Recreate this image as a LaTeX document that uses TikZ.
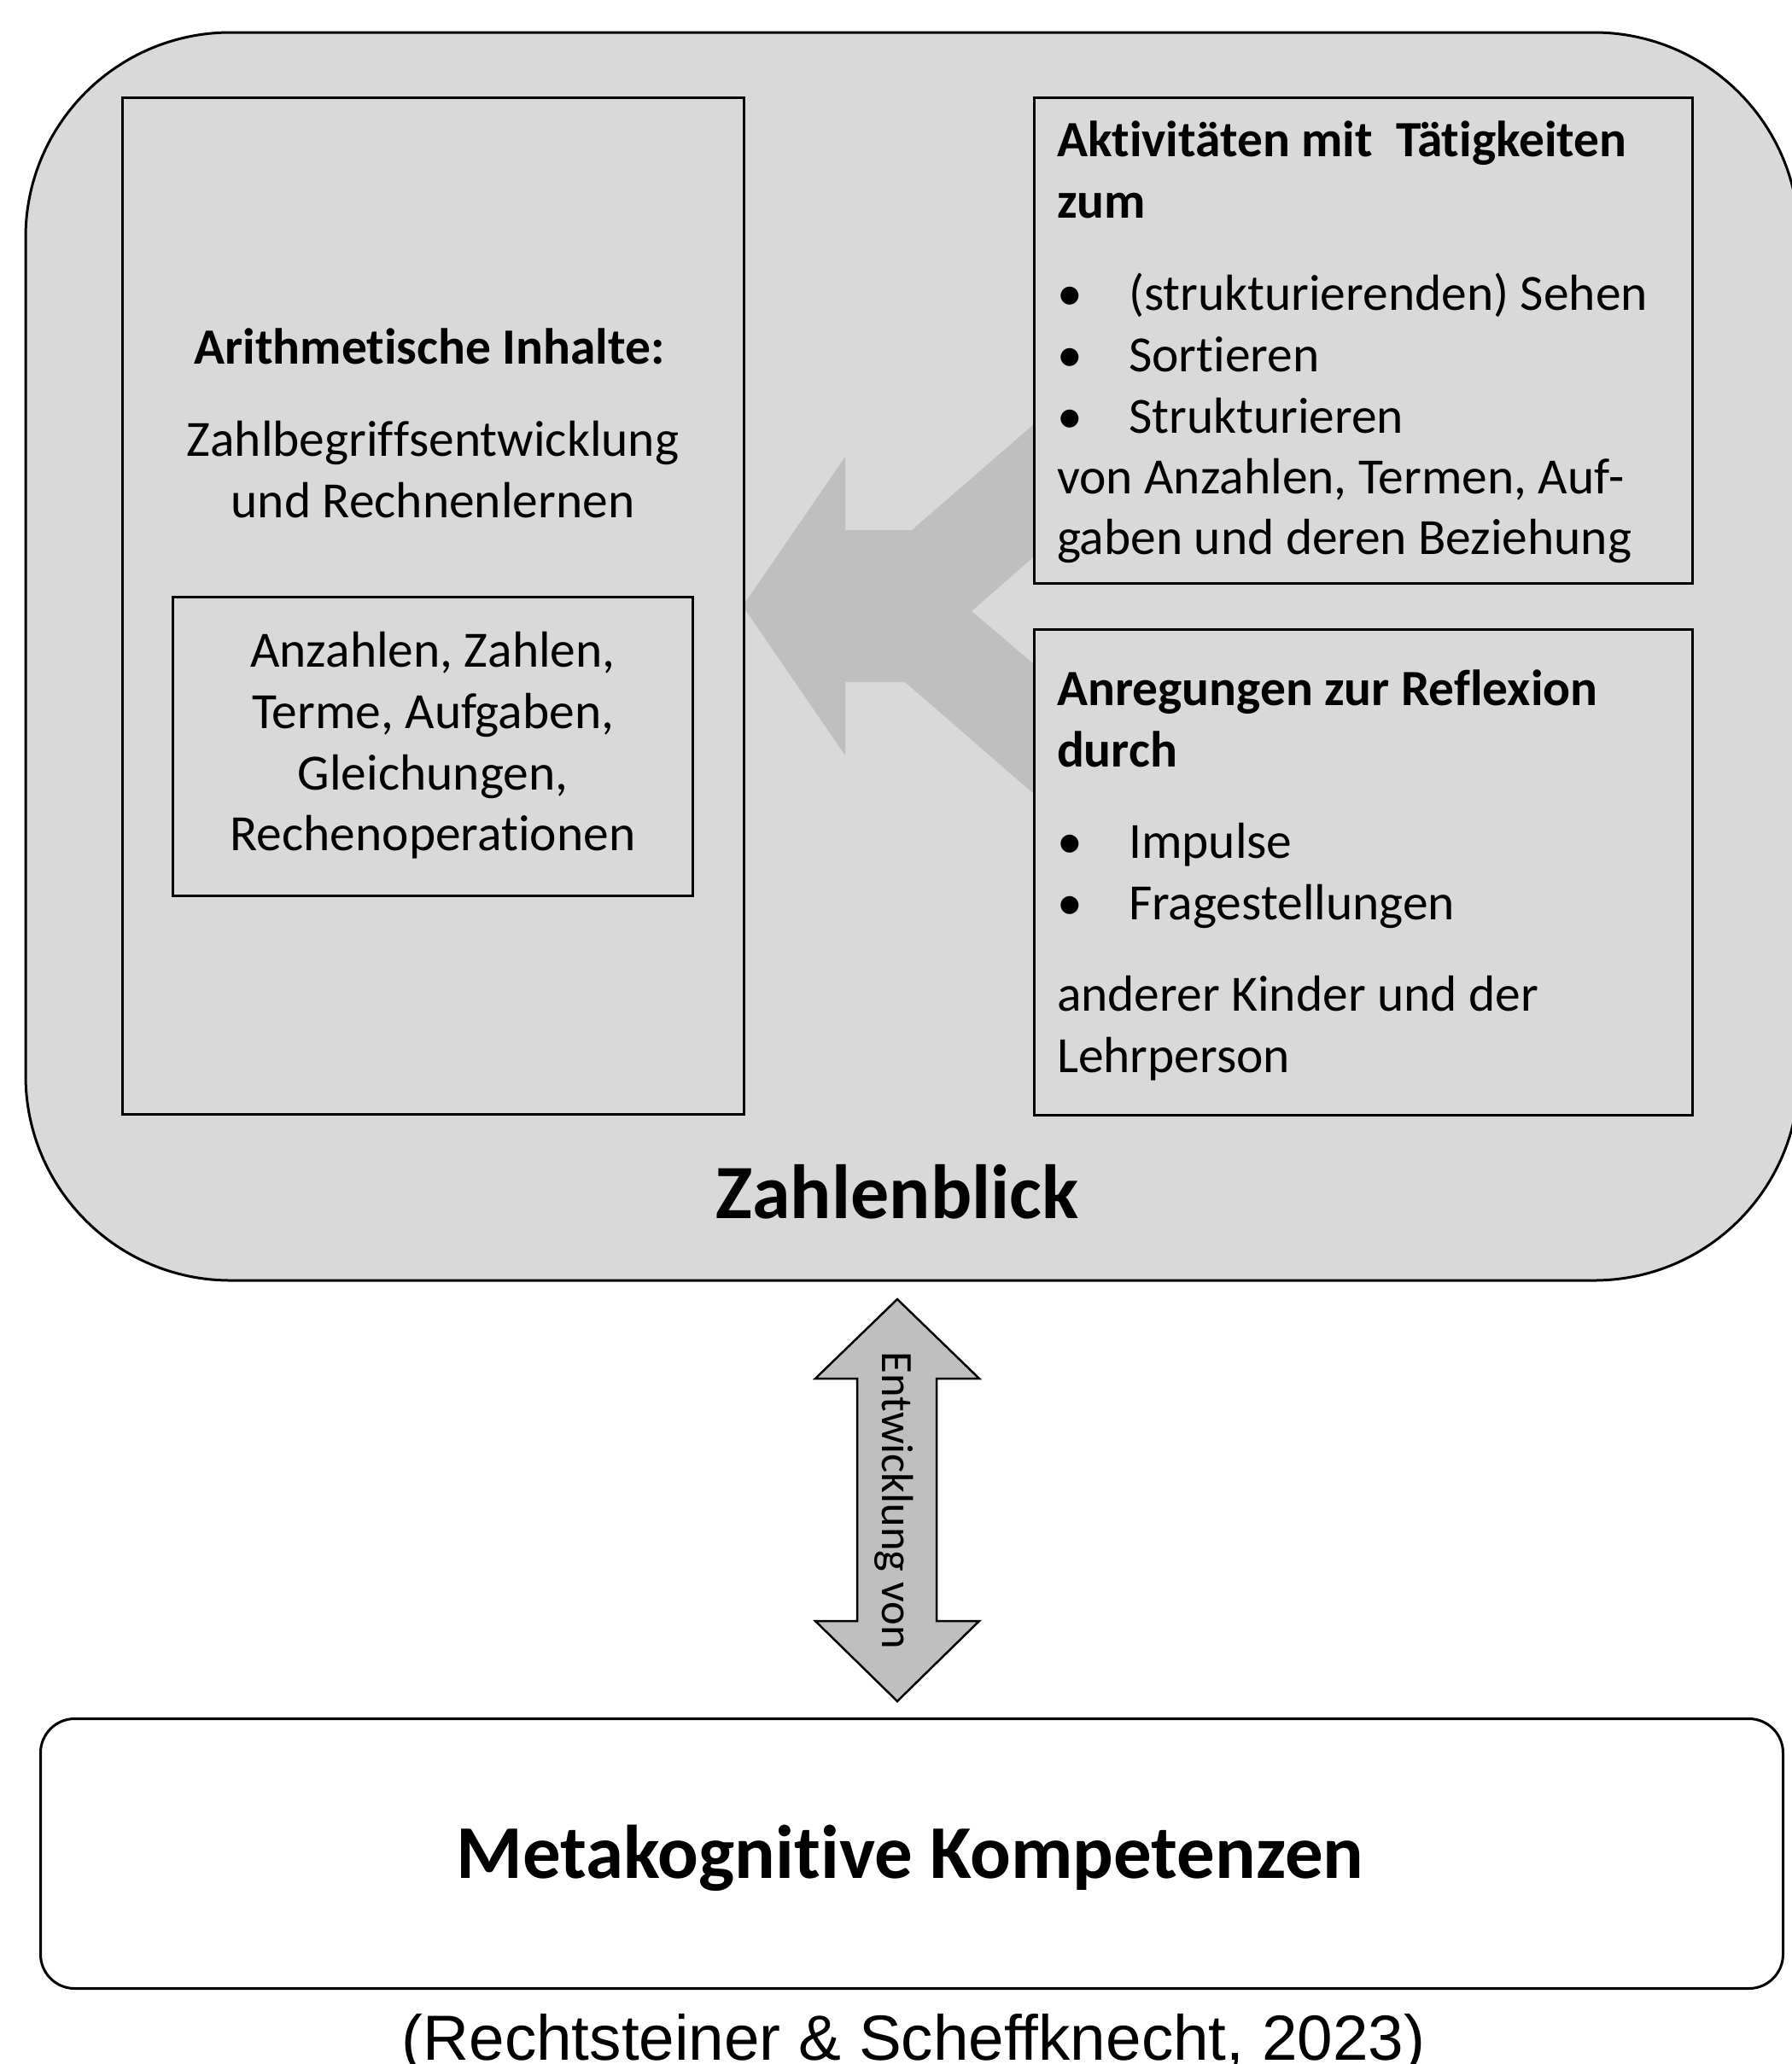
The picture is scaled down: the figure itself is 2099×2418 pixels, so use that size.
\documentclass[tikz,border=0pt]{standalone}
\usepackage{fontspec}
\setmainfont{Carlito}[Ligatures={NoCommon,NoContextual},RawFeature={-liga;-clig}]
\newfontfamily\arialfont{Liberation Sans}
\definecolor{boxgray}{HTML}{D9D9D9}
\definecolor{arrowgray}{HTML}{BFBFBF}
\newcommand\nolig{\kern0pt }
\begin{document}
\begin{tikzpicture}[x=1pt,y=-1pt,
  frame/.style={draw=black, line width=3pt, fill=boxgray, anchor=north west, inner sep=0pt, outer sep=0pt},
  txt/.style={inner sep=0pt, outer sep=0pt, font=\fontsize{59.5}{72}\selectfont},
  btxt/.style={inner sep=0pt, outer sep=0pt, font=\fontsize{59.5}{72}\selectfont\bfseries},
]
\useasboundingbox (0,0) rectangle (2099,2418);
\clip (0,0) rectangle (2099,2418);

% Zahlenblick container
\node[frame, rounded corners=240pt, minimum width=2077pt, minimum height=1462pt] (zb) at (30,38) {};

% grey merging arrow
\fill[arrowgray] (870,710) -- (990,535) -- (990,621) -- (1068,621) -- (1211,497) -- (1211,652)
  -- (1138,716) -- (1211,778) -- (1211,930) -- (1060,799) -- (990,799) -- (990,885) -- cycle;

% boxes
\node[frame, minimum width=728pt, minimum height=1191pt] (left) at (143,114) {};
\node[frame, minimum width=609pt, minimum height=350pt] (inner) at (202,699) {};
\node[frame, minimum width=771pt, minimum height=569pt] (akt) at (1211,114) {};
\node[frame, minimum width=771pt, minimum height=569pt] (anr) at (1211,737) {};

% left box text
\node[btxt, anchor=base] (t1) at (503,426) {Arithmet\nolig ische Inhalte:};
\node[txt, anchor=base] (t2) at (507,534) {Zahlbegrif\nolig f\nolig sentwicklung};
\node[txt, anchor=base] (t3) at (507,606) {und Rechnenlernen};
\node[txt, anchor=base] (t4) at (507,781) {Anzahlen, Zahlen,};
\node[txt, anchor=base] (t5) at (507,853) {Terme, Aufgaben,};
\node[txt, anchor=base] (t6) at (507,925) {Gleichungen,};
\node[txt, anchor=base] (t7) at (507,996) {Rechenoperat\nolig ionen};

% top right box text
\node[btxt, anchor=base west] (a1) at (1238,183) {Akt\nolig ivitäten mit\ \ Tät\nolig igkeiten};
\node[btxt, anchor=base west] (a2) at (1238,255) {zum};
\node[txt, anchor=base west] (b1) at (1238,363) {•};
\node[txt, anchor=base west] (b2) at (1238,435) {•};
\node[txt, anchor=base west] (b3) at (1238,507) {•};
\node[txt, anchor=base west] (a3) at (1322,363) {(strukturierenden) Sehen};
\node[txt, anchor=base west] (a4) at (1322,435) {Sort\nolig ieren};
\node[txt, anchor=base west] (a5) at (1322,507) {Strukturieren};
\node[txt, anchor=base west] (a6) at (1238,578) {von Anzahlen, Termen, Auf-};
\node[txt, anchor=base west] (a7) at (1238,649) {gaben und deren Beziehung};

% bottom right box text
\node[btxt, anchor=base west] (r1) at (1238,826) {Anregungen zur Ref\nolig lexion};
\node[btxt, anchor=base west] (r2) at (1238,898) {durch};
\node[txt, anchor=base west] (b4) at (1238,1005) {•};
\node[txt, anchor=base west] (b5) at (1238,1077) {•};
\node[txt, anchor=base west] (r3) at (1322,1005) {Impulse};
\node[txt, anchor=base west] (r4) at (1322,1077) {Fragestellungen};
\node[txt, anchor=base west] (r5) at (1238,1184) {anderer Kinder und der};
\node[txt, anchor=base west] (r6) at (1238,1256) {Lehrperson};

% Zahlenblick title
\node[inner sep=0pt, font=\fontsize{90}{100}\selectfont\bfseries, anchor=base] (zbt) at (1051,1427) {Zahlenblick};

% double arrow
\draw[line width=2.5pt, fill=arrowgray, line join=miter] (1051,1522) -- (1147,1615) -- (1097,1615) -- (1097,1899) -- (1147,1899)
  -- (1051,1993) -- (955,1899) -- (1004,1899) -- (1004,1615) -- (955,1615) -- cycle;
\node[inner sep=0pt, font=\fontsize{52.5}{60}\selectfont, rotate=-90, anchor=base] (ent) at (1033,1758) {Entwicklung von};

% Metakognitive Kompetenzen
\node[draw=black, line width=3pt, fill=white, rounded corners=40pt, anchor=north west, inner sep=0pt,
  minimum width=2041pt, minimum height=316pt] (meta) at (46,2012) {};
\node[inner sep=0pt, font=\fontsize{89}{100}\selectfont\bfseries, anchor=base] (metat) at (1066,2200) {Metakognit\nolig ive Kompetenzen};

% citation
\node[inner sep=0pt, font=\arialfont\fontsize{74.7}{80}\selectfont, anchor=base] (cite) at (1070,2413) {(Rechtsteiner \& Scheffknecht, 2023)};
\end{tikzpicture}
\end{document}
